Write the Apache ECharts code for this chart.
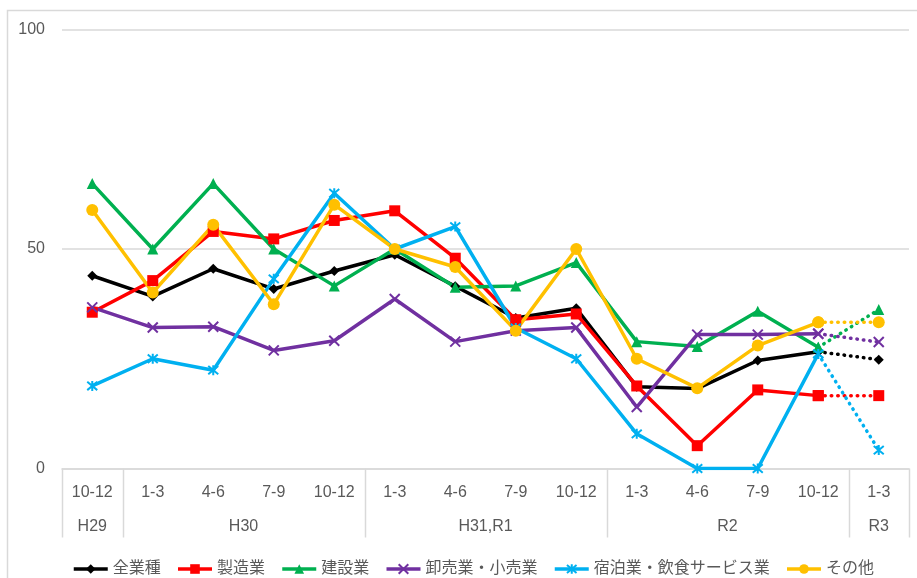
<!DOCTYPE html>
<html>
<head>
<meta charset="utf-8">
<script src="https://cdn.jsdelivr.net/npm/echarts@6/dist/echarts.min.js"></script>
<style>
  html, body { margin: 0; padding: 0; background: #fff; }
  #chart { width: 917px; height: 578px; }
</style>
</head>
<body>
<div id="chart"></div>
<script>
// Quarter labels and the fiscal-year groups they belong to
const quarters = ['10-12', '1-3', '4-6', '7-9', '10-12', '1-3', '4-6', '7-9', '10-12', '1-3', '4-6', '7-9', '10-12', '1-3'];
const yearGroups = ['H29', 'H30', 'H31,R1', 'R2', 'R3'];
const yearGroupSizes = [1, 4, 4, 4, 1];
const yTicks = [0, 50, 100];

// Series values (last point is the outlook, joined with a dotted segment)
const allIndustries = [43.9, 39.2, 45.5, 40.9, 45.0, 48.7, 41.5, 34.3, 36.5, 18.6, 18.2, 24.6, 26.6, 24.8];
const manufacturing = [35.6, 42.8, 54.0, 52.3, 56.5, 58.7, 47.9, 33.9, 35.2, 18.8, 5.2, 17.9, 16.6, 16.6];
const construction = [64.9, 50.0, 64.9, 50.0, 41.6, 50.0, 41.3, 41.6, 46.9, 28.9, 27.8, 35.8, 27.6, 36.2];
const wholesaleRetail = [36.7, 32.1, 32.3, 26.9, 29.1, 38.6, 28.9, 31.4, 32.1, 14.0, 30.5, 30.5, 30.7, 28.8];
const hospitality = [18.8, 25.0, 22.4, 43.2, 62.7, 50.0, 55.1, 32.0, 25.0, 7.9, 0, 0, 26.1, 4.2];
const others = [58.9, 40.1, 55.5, 37.4, 60.1, 50.0, 45.9, 31.4, 50.0, 25.0, 18.3, 28.0, 33.3, 33.3];

const seriesDefs = [
  { name: '全業種', data: allIndustries, color: '#000000', symbol: 'diamond', size: 10 },
  { name: '製造業', data: manufacturing, color: '#FF0000', symbol: 'rect', size: 11 },
  { name: '建設業', data: construction, color: '#00B050', symbol: 'triangle', size: 11 },
  { name: '卸売業・小売業', data: wholesaleRetail, color: '#7030A0', symbol: 'path://M0,0L10,10M0,10L10,0', size: 10, stroke: true },
  { name: '宿泊業・飲食サービス業', data: hospitality, color: '#00B0F0', symbol: 'path://M0,0L10,10M0,10L10,0M5,-1L5,11', size: 10, stroke: true },
  { name: 'その他', data: others, color: '#FFC000', symbol: 'circle', size: 12 }
];

const FONT = "'Liberation Sans', 'Noto Sans CJK JP', sans-serif";
const TEXT = '#595959';
const GRID = '#d9d9d9';
const lastActual = quarters.length - 2;

function itemStyleFor(d) {
  return d.stroke
    ? { color: d.color, borderColor: d.color, borderWidth: 2 }
    : { color: d.color, borderWidth: 0 };
}

const series = [];
seriesDefs.forEach(d => {
  series.push({
    name: d.name,
    type: 'line',
    data: d.data.map((v, i) => (i <= lastActual ? v : null)),
    symbol: d.symbol,
    symbolSize: d.size,
    lineStyle: { color: d.color, width: 3.5 },
    itemStyle: itemStyleFor(d),
    z: 2
  });
});
seriesDefs.forEach(d => {
  series.push({
    name: d.name,
    type: 'line',
    data: d.data.map((v, i) => (i >= lastActual ? v : null)),
    symbol: d.symbol,
    symbolSize: d.size,
    showSymbol: true,
    lineStyle: { color: d.color, width: 3.5, type: [0.5, 6], cap: 'round' },
    itemStyle: itemStyleFor(d),
    z: 1
  });
});

const chart = echarts.init(document.getElementById('chart'), null, { renderer: 'canvas' });

chart.setOption({
  animation: false,
  backgroundColor: '#ffffff',
  textStyle: { fontFamily: FONT },
  grid: { left: 62, right: 8, top: 29.5, bottom: 109.5, containLabel: false },
  legend: {
    data: seriesDefs.map(d => d.name),
    left: 72,
    top: 561,
    padding: 0,
    itemWidth: 34,
    itemHeight: 12,
    itemGap: 15.5,
    lineStyle: { width: 3.5 },
    textStyle: { color: TEXT, fontSize: 16, fontFamily: FONT }
  },
  xAxis: {
    type: 'category',
    data: quarters,
    boundaryGap: true,
    axisLine: { show: true, lineStyle: { color: GRID, width: 1.5 } },
    axisTick: { show: false },
    axisLabel: { color: TEXT, fontSize: 16, margin: 16, interval: 0, fontFamily: FONT },
    splitLine: { show: false }
  },
  yAxis: {
    type: 'value',
    min: yTicks[0],
    max: yTicks[yTicks.length - 1],
    interval: yTicks[1] - yTicks[0],
    axisLine: { show: false },
    axisTick: { show: false },
    axisLabel: { color: TEXT, fontSize: 16, margin: 17, fontFamily: FONT },
    splitLine: { lineStyle: { color: GRID, width: 1.5 } }
  },
  series: series
});

// Chart frame, year-group separators and group labels under the quarter labels
function drawGroups() {
  const p0 = chart.convertToPixel({ xAxisIndex: 0 }, 0);
  const p1 = chart.convertToPixel({ xAxisIndex: 0 }, 1);
  const band = p1 - p0;
  const axisY = chart.convertToPixel({ yAxisIndex: 0 }, 0);
  const elements = [{
    type: 'rect',
    shape: { x: 7.5, y: 10.5, width: 1200, height: 1200 },
    style: { fill: 'none', stroke: GRID, lineWidth: 1.5 },
    silent: true
  }];
  let start = 0;
  const boundaries = [0];
  yearGroups.forEach((g, gi) => {
    const end = start + yearGroupSizes[gi];
    boundaries.push(end);
    const cx = p0 - band / 2 + band * (start + end) / 2;
    elements.push({
      type: 'text',
      x: cx,
      y: axisY + 58,
      style: { text: g, fill: TEXT, font: '16px ' + FONT, textAlign: 'center', textVerticalAlign: 'middle' },
      silent: true
    });
    start = end;
  });
  boundaries.forEach(b => {
    const x = Math.round(p0 - band / 2 + band * b) + 0.5;
    elements.push({
      type: 'line',
      shape: { x1: x, y1: axisY, x2: x, y2: axisY + 69 },
      style: { stroke: GRID, lineWidth: 1.5 },
      silent: true
    });
  });
  chart.setOption({ graphic: elements });
}
drawGroups();
</script>
</body>
</html>
